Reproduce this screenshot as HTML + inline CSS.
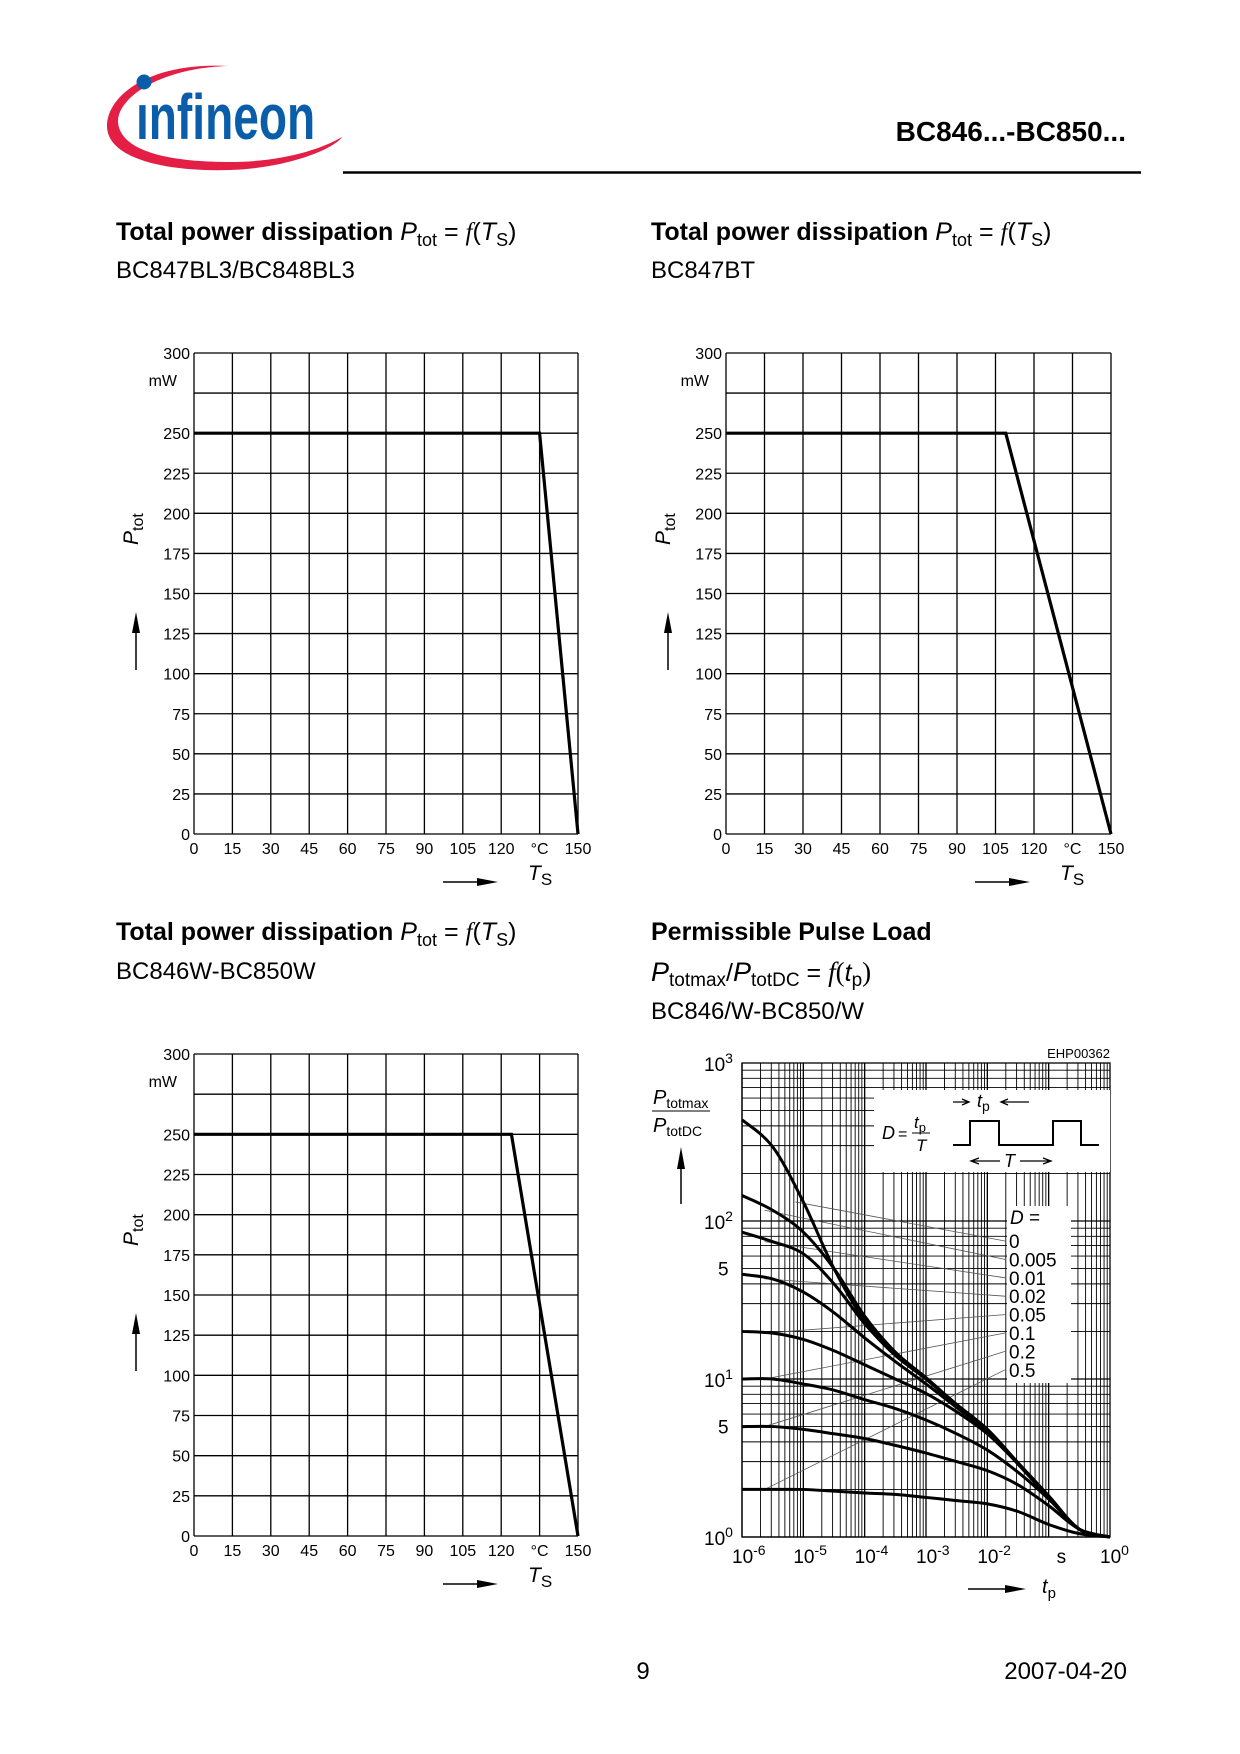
<!DOCTYPE html>
<html><head><meta charset="utf-8"><style>
body{margin:0;background:#fff;}
svg{display:block;font-family:"Liberation Sans",sans-serif;}
</style></head><body>
<svg id="page" width="1240" height="1754" viewBox="0 0 1240 1754" xmlns="http://www.w3.org/2000/svg">
<g>
<path d="M228,66 C150,62 108,95 107,125 C106,160 170,172 230,170 C290,168 335,148 342,137 C320,150 280,162 230,162 C165,162 120,150 118,122 C117,98 160,68 228,66 Z" fill="#e41f45"/>
<circle cx="144" cy="82" r="7.5" fill="#0a5ea9"/>
<text x="136" y="139" font-size="64" font-weight="bold" fill="#0a5ea9" transform="translate(136,139) scale(0.72,1) translate(-136,-139)">ınfineon</text>
</g>
<text x="1126" y="141" font-size="28" font-weight="bold" text-anchor="end">BC846...-BC850...</text>
<line x1="343" y1="172.5" x2="1141" y2="172.5" stroke="#000" stroke-width="2.5"/>

<g font-size="25">
<text x="116" y="240"><tspan font-weight="bold">Total power dissipation</tspan> <tspan font-style="italic">P</tspan><tspan font-size="18" dy="6">tot</tspan><tspan dy="-6"> = </tspan><tspan font-family="Liberation Serif" font-style="italic">f</tspan>(<tspan font-style="italic">T</tspan><tspan font-size="18" dy="6">S</tspan><tspan dy="-6">)</tspan></text>
<text x="116" y="278" font-size="24">BC847BL3/BC848BL3</text>
</g>
<g font-size="25">
<text x="651" y="240"><tspan font-weight="bold">Total power dissipation</tspan> <tspan font-style="italic">P</tspan><tspan font-size="18" dy="6">tot</tspan><tspan dy="-6"> = </tspan><tspan font-family="Liberation Serif" font-style="italic">f</tspan>(<tspan font-style="italic">T</tspan><tspan font-size="18" dy="6">S</tspan><tspan dy="-6">)</tspan></text>
<text x="651" y="278" font-size="24">BC847BT</text>
</g>
<g font-size="25">
<text x="116" y="940"><tspan font-weight="bold">Total power dissipation</tspan> <tspan font-style="italic">P</tspan><tspan font-size="18" dy="6">tot</tspan><tspan dy="-6"> = </tspan><tspan font-family="Liberation Serif" font-style="italic">f</tspan>(<tspan font-style="italic">T</tspan><tspan font-size="18" dy="6">S</tspan><tspan dy="-6">)</tspan></text>
<text x="116" y="979" font-size="24">BC846W-BC850W</text>
</g>
<g font-size="25">
<text x="651" y="940" font-weight="bold">Permissible Pulse Load</text>
<text x="651" y="981"><tspan font-style="italic" font-size="27">P</tspan><tspan font-size="19" dy="5">totmax</tspan><tspan dy="-5">/</tspan><tspan font-style="italic" font-size="27">P</tspan><tspan font-size="19" dy="5">totDC</tspan><tspan dy="-5"> =  </tspan><tspan font-family="Liberation Serif" font-style="italic" font-size="27">f</tspan><tspan font-family="Liberation Serif" font-size="27">(</tspan><tspan font-style="italic">t</tspan><tspan font-size="19" dy="5">p</tspan><tspan dy="-5" font-family="Liberation Serif" font-size="27">)</tspan></text>
<text x="651" y="1019" font-size="24">BC846/W-BC850/W</text>
</g>

<g id="c1"></g>
<g id="c2"></g>
<g id="c3"></g>
<g id="c4"></g>

<text x="643" y="1679" font-size="24" text-anchor="middle">9</text>
<text x="1127" y="1679" font-size="24" text-anchor="end">2007-04-20</text>
</svg>
<script>
// linear derating charts
const tempTicks=[0,15,30,45,60,75,90,105,120,135,150];
const tempTickLabels=["0","15","30","45","60","75","90","105","120","°C","150"];
const powerTicks=[0,25,50,75,100,125,150,175,200,225,250,275,300];
const powerTickLabels=["0","25","50","75","100","125","150","175","200","225","250","","300"];
const c1Temps=[0,135,150]; const c1Power=[250,250,0];
const c2Temps=[0,109,150]; const c2Power=[250,250,0];
const c3Temps=[0,124,150]; const c3Power=[250,250,0];

// pulse chart data
const pulseTimes=[1e-6,3.16e-6,1e-5,3.16e-5,1e-4,3.16e-4,1e-3,3.16e-3,1e-2,3.16e-2,1e-1,3.16e-1,1];
const dutyLabels=["0","0.005","0.01","0.02","0.05","0.1","0.2","0.5"];
const pD0=[437,295,132,50,23.4,14.5,10,6.8,4.7,2.9,1.8,1.12,1];
const pD0005=[145,117,85,50,25,14.8,10.2,6.9,4.8,2.95,1.82,1.12,1];
const pD001=[85,74,62,40,22.4,14.1,10,6.9,4.8,2.95,1.82,1.12,1];
const pD002=[46,43,35.5,26.3,18.2,12.9,9.3,6.6,4.7,2.9,1.78,1.12,1];
const pD005=[20,19.5,17.8,15.1,12.3,10,8.1,6.2,4.5,2.9,1.78,1.12,1];
const pD01=[10,10,9.3,8.5,7.4,6.5,5.5,4.5,3.55,2.57,1.74,1.12,1];
const pD02=[5,5,4.8,4.5,4.2,3.8,3.4,3.0,2.63,2.14,1.58,1.12,1];
const pD05=[2,2,2,1.95,1.9,1.86,1.78,1.7,1.62,1.45,1.2,1.05,1];
const xDecadeLabels=["-6","-5","-4","-3","-2","","0"];

const NS="http://www.w3.org/2000/svg";
function mk(p,tag,at,txt){const e=document.createElementNS(NS,tag);for(const k in at)e.setAttribute(k,at[k]);if(txt!=null)e.textContent=txt;p.appendChild(e);return e;}

function linChart(g,L,R,T,B,temps,pw){
  const sx=v=>L+(v-0)/150*(R-L), sy=v=>B-(v/300)*(B-T);
  tempTicks.forEach((t,i)=>{const l=mk(g,'line',{x1:sx(t),x2:sx(t),y1:T,y2:B,stroke:'#000','stroke-width':1.3});
    
    
    const tx=mk(g,'text',{x:sx(t),y:B+20,'font-size':16,'text-anchor':'middle'},tempTickLabels[i]);
    
    });
  powerTicks.forEach((p,i)=>{const l=mk(g,'line',{x1:L,x2:R,y1:sy(p),y2:sy(p),stroke:'#000','stroke-width':1.3});
    
    
    if(powerTickLabels[i]){const tx=mk(g,'text',{x:L-4,y:sy(p)+6,'font-size':16,'text-anchor':'end'},powerTickLabels[i]);
    
    }});
  const u=mk(g,'text',{x:L-17,y:T+33,'font-size':16,'text-anchor':'end'},'mW');
  
  
  const pl=mk(g,'polyline',{points:temps.map((t,i)=>sx(t)+','+sy(pw[i])).join(' '),fill:'none',stroke:'#000','stroke-width':3.2,'stroke-linejoin':'miter'});
  
  
  const yl=mk(g,'text',{transform:`translate(${L-56},${T+192}) rotate(-90)`,'font-size':21,'font-style':'italic'});
  yl.innerHTML='P<tspan font-size="16" dy="5" font-style="normal">tot</tspan>';
  
  
  const ya=mk(g,'g',{});
  
  
  mk(ya,'line',{x1:L-58,x2:L-58,y1:T+317,y2:T+271,stroke:'#000','stroke-width':1.5});
  mk(ya,'path',{d:`M${L-62},${T+280} L${L-58},${T+259} L${L-54},${T+280}Z`});
  const xa=mk(g,'g',{});
  
  
  mk(xa,'line',{x1:L+249,x2:L+295,y1:B+48,y2:B+48,stroke:'#000','stroke-width':1.5});
  mk(xa,'path',{d:`M${L+283},${B+44} L${L+304},${B+48} L${L+283},${B+52}Z`});
  const xl=mk(g,'text',{x:L+334,y:B+46,'font-size':21,'font-style':'italic'});
  xl.innerHTML='T<tspan font-size="17" dy="5" font-style="normal">S</tspan>';
  
  
}
linChart(document.getElementById('c1'),194,578,353,834,c1Temps,c1Power);
linChart(document.getElementById('c2'),726,1111,353,834,c2Temps,c2Power);
linChart(document.getElementById('c3'),194,578,1054,1536,c3Temps,c3Power);

(function(){
  const g=document.getElementById('c4');
  const L=742,R=1110,T=1063,B=1537;
  const sx=v=>L+(Math.log10(v)+6)/6*(R-L), sy=v=>B-Math.log10(v)/3*(B-T);
  for(let d=-6;d<0;d++)for(let m=1;m<10;m++){const x=sx(m*Math.pow(10,d));
    const l=mk(g,'line',{x1:x,x2:x,y1:T,y2:B,stroke:'#000','stroke-width':m==1?1.3:0.9});
    
    }
  for(let d=0;d<3;d++)for(let m=1;m<10;m++){const y=sy(m*Math.pow(10,d));
    const l=mk(g,'line',{x1:L,x2:R,y1:y,y2:y,stroke:'#000','stroke-width':m==1?1.3:0.9});
    
    }
  mk(g,'rect',{x:L,y:T,width:R-L,height:B-T,fill:'none',stroke:'#000','stroke-width':1.3});
  // inset
  const ins=mk(g,'g',{});
  
  
  mk(ins,'rect',{x:874,y:1090,width:236,height:82,fill:'#fff'});
  mk(ins,'polyline',{points:'953,1145 970,1145 970,1121 999,1121 999,1145 1053,1145 1053,1121 1081,1121 1081,1145 1099,1145',fill:'none',stroke:'#000','stroke-width':2});
  mk(ins,'text',{x:882,y:1139,'font-size':18,'font-style':'italic'},'D');
  mk(ins,'text',{x:898,y:1139,'font-size':16},'=');
  mk(ins,'text',{x:914,y:1128,'font-size':17,'font-style':'italic'}).innerHTML='t<tspan font-size="13" dy="4" font-style="normal">p</tspan>';
  mk(ins,'line',{x1:912,x2:930,y1:1133,y2:1133,stroke:'#000'});
  mk(ins,'text',{x:916,y:1151,'font-size':17,'font-style':'italic'},'T');
  mk(ins,'text',{x:977,y:1107,'font-size':18,'font-style':'italic'}).innerHTML='t<tspan font-size="14" dy="4" font-style="normal">p</tspan>';
  mk(ins,'path',{d:'M953,1102 L969,1102 M962,1099 L969,1102 L962,1105 M1001,1102 L1029,1102 M1008,1099 L1001,1102 L1008,1105',stroke:'#000',fill:'none','stroke-width':1.3});
  mk(ins,'path',{d:'M971,1161 L1000,1161 M979,1158 L971,1161 L979,1164 M1020,1161 L1051,1161 M1043,1158 L1051,1161 L1043,1164',stroke:'#000',fill:'none','stroke-width':1.3});
  mk(ins,'text',{x:1004,y:1167,'font-size':18,'font-style':'italic'},'T');
  // legend box
  const lb=mk(g,'g',{});
  
  
  mk(lb,'rect',{x:1007,y:1206,width:64,height:177,fill:'#fff'});
  mk(lb,'text',{x:1010,y:1224,'font-size':19}).innerHTML='<tspan font-style="italic">D</tspan> =';
  const series=[pD0,pD0005,pD001,pD002,pD005,pD01,pD02,pD05];
  const leaderIdx=[2,1,1,1,1,1,1,1];
  series.forEach((s,k)=>{
    const ly=1241+k*18.4;
    const t=mk(lb,'text',{x:1009,y:ly+7,'font-size':19},dutyLabels[k]);
    
    
    const ln=mk(g,'line',{x1:sx(pulseTimes[leaderIdx[k]])-8,y1:sy(s[leaderIdx[k]]),x2:1005,y2:ly,stroke:'#555','stroke-width':0.8});
    
    
  });
  series.forEach((s,k)=>{
    const pts=pulseTimes.map((t,i)=>[sx(t),sy(s[i])]);
    let d='M'+pts[0].join(',');
    for(let i=0;i<pts.length-1;i++){const p0=pts[Math.max(0,i-1)],p1=pts[i],p2=pts[i+1],p3=pts[Math.min(pts.length-1,i+2)];
      d+=` C${p1[0]+(p2[0]-p0[0])/6},${p1[1]+(p2[1]-p0[1])/6} ${p2[0]-(p3[0]-p1[0])/6},${p2[1]-(p3[1]-p1[1])/6} ${p2[0]},${p2[1]}`;}
    const p=mk(g,'path',{d:d,fill:'none',stroke:'#000','stroke-width':3});
    
    
  });
  // y labels
  [[1,'0'],[10,'1'],[100,'2'],[1000,'3']].forEach(([v,e])=>{
    const t=mk(g,'text',{x:L-38,y:sy(v)+8,'font-size':19});
    t.innerHTML='10<tspan font-size="14" dy="-8">'+e+'</tspan>';
    
    });
  [5,50].forEach(v=>{const t=mk(g,'text',{x:L-24,y:sy(v)+7,'font-size':19},'5');
    
    });
  xDecadeLabels.forEach((e,i)=>{
    const x=sx(Math.pow(10,i-6));
    const t=mk(g,'text',{x:x-10,y:B+26,'font-size':19});
    if(e!=='')t.innerHTML='10<tspan font-size="14" dy="-8">'+e+'</tspan>';
    else{t.textContent='s';t.setAttribute('x',x+8);}
    
    });
  const eh=mk(g,'text',{x:1110,y:1058,'font-size':13,'text-anchor':'end'},'EHP00362');
  
  
  const yt=mk(g,'g',{});
  
  
  mk(yt,'text',{x:653,y:1104,'font-size':20,'font-style':'italic'}).innerHTML='P<tspan font-size="14" dy="4" font-style="normal">totmax</tspan>';
  mk(yt,'line',{x1:652,x2:710,y1:1111,y2:1111,stroke:'#000','stroke-width':1});
  mk(yt,'text',{x:653,y:1132,'font-size':20,'font-style':'italic'}).innerHTML='P<tspan font-size="14" dy="4" font-style="normal">totDC</tspan>';
  mk(yt,'line',{x1:681,x2:681,y1:1204,y2:1159,stroke:'#000','stroke-width':1.5});
  mk(yt,'path',{d:'M677,1169 L681,1147 L685,1169Z'});
  const xt=mk(g,'g',{});
  
  
  mk(xt,'line',{x1:968,x2:1015,y1:1589,y2:1589,stroke:'#000','stroke-width':1.5});
  mk(xt,'path',{d:'M1005,1585 L1026,1589 L1005,1593Z'});
  mk(xt,'text',{x:1042,y:1593,'font-size':20,'font-style':'italic'}).innerHTML='t<tspan font-size="15" dy="5" font-style="normal">p</tspan>';
})();
</script>
</body></html>
